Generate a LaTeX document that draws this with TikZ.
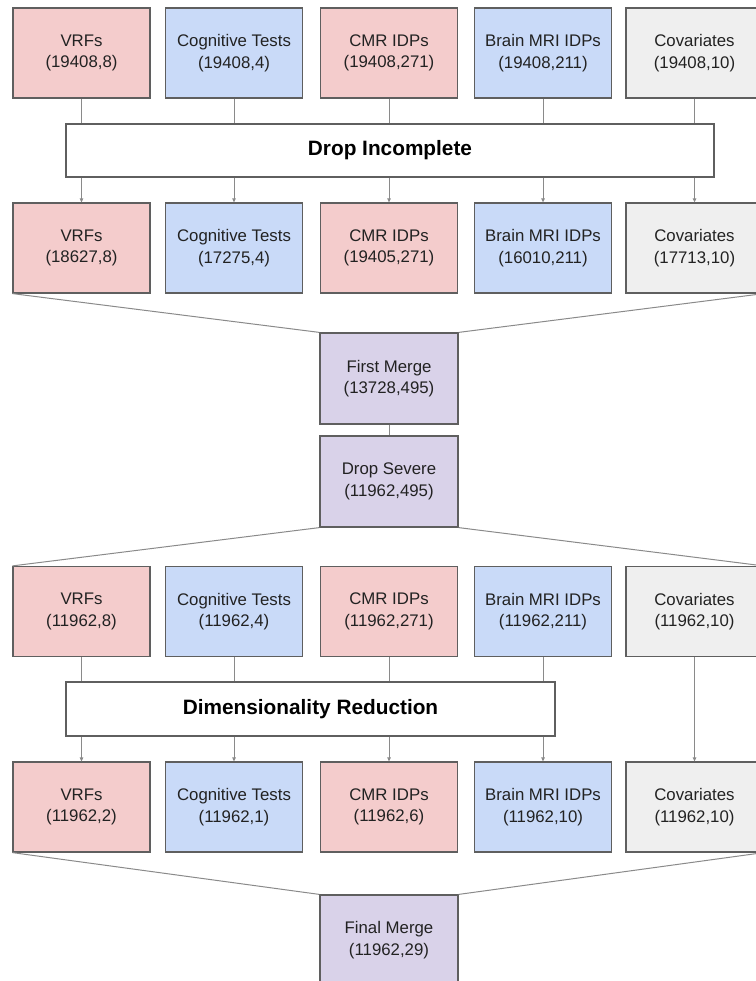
\documentclass[tikz,border=0pt]{standalone}
\usepackage{fontspec}
\setmainfont{Liberation Sans}
\usetikzlibrary{arrows.meta}
\definecolor{vrfcol}{HTML}{F4CCCC}
\definecolor{cogcol}{HTML}{C9DAF8}
\definecolor{covcol}{HTML}{EFEFEF}
\definecolor{mrgcol}{HTML}{D9D2E9}
\definecolor{edgegray}{HTML}{5F5F5F}
\definecolor{linegray}{HTML}{8A8A8A}
\definecolor{textgray}{HTML}{222222}
\tikzset{
  databox/.style={draw=edgegray, line width=1.2pt, minimum width=137pt, minimum height=90pt,
    align=center, text=textgray, font=\fontsize{16.8}{21.5}\selectfont},
  stagebox/.style={draw=edgegray, line width=1.2pt, fill=white, text=black,
    font=\bfseries\fontsize{20.8}{24}\selectfont},
  link/.style={draw=linegray, line width=1pt},
  tip/.style={-{Triangle[length=4pt,width=3.5pt]}},
}

\begin{document}
\begin{tikzpicture}[x=1pt, y=-1pt]
  \useasboundingbox (0,0) rectangle (755,981);
  % raw data
  \node[databox, fill=vrfcol] (vrf1) at (81.5,53) {VRFs\\(19408,8)};
  \node[databox, fill=cogcol] (cog1) at (234,53) {Cognitive Tests\\(19408,4)};
  \node[databox, fill=vrfcol] (cmr1) at (389,53) {CMR IDPs\\(19408,271)};
  \node[databox, fill=cogcol] (mri1) at (543,53) {Brain MRI IDPs\\(19408,211)};
  \node[databox, fill=covcol] (cov1) at (694.5,53) {Covariates\\(19408,10)};
  \node[stagebox, minimum width=648pt, minimum height=53pt] (incomplete) at (390,150.5) {Drop Incomplete};
  \node[databox, fill=vrfcol] (vrf2) at (81.5,248) {VRFs\\(18627,8)};
  \node[databox, fill=cogcol] (cog2) at (234,248) {Cognitive Tests\\(17275,4)};
  \node[databox, fill=vrfcol] (cmr2) at (389,248) {CMR IDPs\\(19405,271)};
  \node[databox, fill=cogcol] (mri2) at (543,248) {Brain MRI IDPs\\(16010,211)};
  \node[databox, fill=covcol] (cov2) at (694.5,248) {Covariates\\(17713,10)};
  \foreach \n in {vrf,cog,cmr,mri,cov} {
    \draw[link] (\n1) -- (\n1 |- incomplete.north);
    \draw[link, tip] (\n1 |- incomplete.south) -- (\n2);
  }
  % merge
  \node[databox, fill=mrgcol, minimum width=138pt, minimum height=91pt] (merge1) at (389,378.5) {First Merge\\(13728,495)};
  \node[databox, fill=mrgcol, minimum width=138pt, minimum height=91pt] (severe) at (389,481.5) {Drop Severe\\(11962,495)};
  \draw[link] (vrf2.south west) -- (merge1.north west);
  \draw[link] (cov2.south east) -- (merge1.north east);
  \draw[link] (merge1) -- (severe);
  % reduced data
  \node[databox, fill=vrfcol] (vrf3) at (81.5,611.5) {VRFs\\(11962,8)};
  \node[databox, fill=cogcol] (cog3) at (234,611.5) {Cognitive Tests\\(11962,4)};
  \node[databox, fill=vrfcol] (cmr3) at (389,611.5) {CMR IDPs\\(11962,271)};
  \node[databox, fill=cogcol] (mri3) at (543,611.5) {Brain MRI IDPs\\(11962,211)};
  \node[databox, fill=covcol] (cov3) at (694.5,611.5) {Covariates\\(11962,10)};
  \draw[link] (severe.south west) -- (vrf3.north west);
  \draw[link] (severe.south east) -- (cov3.north east);
  \node[stagebox, minimum width=489pt, minimum height=54pt] (reduction) at (310.5,709) {Dimensionality Reduction};
  \node[databox, fill=vrfcol] (vrf4) at (81.5,807) {VRFs\\(11962,2)};
  \node[databox, fill=cogcol] (cog4) at (234,807) {Cognitive Tests\\(11962,1)};
  \node[databox, fill=vrfcol] (cmr4) at (389,807) {CMR IDPs\\(11962,6)};
  \node[databox, fill=cogcol] (mri4) at (543,807) {Brain MRI IDPs\\(11962,10)};
  \node[databox, fill=covcol] (cov4) at (694.5,807) {Covariates\\(11962,10)};
  \foreach \n in {vrf,cog,cmr,mri} {
    \draw[link] (\n3) -- (\n3 |- reduction.north);
    \draw[link, tip] (\n3 |- reduction.south) -- (\n4);
  }
  \draw[link, tip] (cov3) -- (cov4);
  \node[databox, fill=mrgcol, minimum width=138pt, minimum height=90pt] (final) at (389,940) {Final Merge\\(11962,29)};
  \draw[link] (vrf4.south west) -- (final.north west);
  \draw[link] (cov4.south east) -- (final.north east);
\end{tikzpicture}
\end{document}
